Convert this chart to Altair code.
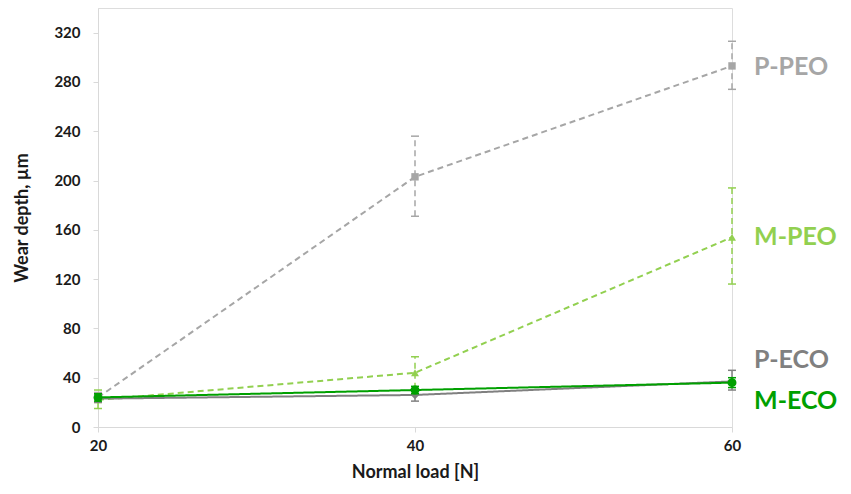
import altair as alt
import pandas as pd

loads = [20, 40, 60]
series = ["P-PEO", "M-PEO", "P-ECO", "M-ECO"]
colors = ["#A6A6A6", "#92D050", "#808080", "#00A000"]
shapes = ["square", "triangle-up", "diamond", "circle"]
dashes = [[6, 4], [6, 4], [1, 0], [1, 0]]
marker_sizes = [55, 80, 60, 60]

p_peo = [24, 203, 293]
p_peo_lo = [20, 171, 274]
p_peo_hi = [28, 236, 313]

m_peo = [22, 44, 154]
m_peo_lo = [15, 31, 116]
m_peo_hi = [30, 57, 194]

p_eco = [23, 26, 37]
p_eco_lo = [20, 21, 30]
p_eco_hi = [27, 31, 46]

m_eco = [24, 30, 36]
m_eco_lo = [21, 27, 32]
m_eco_hi = [27, 33, 40]

label_y = [292, 154, 54, 21]

rows = []
for name, v, lo, hi in [("P-PEO", p_peo, p_peo_lo, p_peo_hi),
                        ("M-PEO", m_peo, m_peo_lo, m_peo_hi),
                        ("P-ECO", p_eco, p_eco_lo, p_eco_hi),
                        ("M-ECO", m_eco, m_eco_lo, m_eco_hi)]:
    for x, a, b, c in zip(loads, v, lo, hi):
        rows.append({"load": x, "depth": a, "lo": b, "hi": c, "series": name})
df = pd.DataFrame(rows)
lab = pd.DataFrame({"series": series, "y": label_y, "load": [60] * 4})

FONT = "Lato"
color = alt.Color("series:N", scale=alt.Scale(domain=series, range=colors), legend=None)
dash = alt.StrokeDash("series:N", scale=alt.Scale(domain=series, range=dashes), legend=None)
shape = alt.Shape("series:N", scale=alt.Scale(domain=series, range=shapes), legend=None)
size = alt.Size("series:N", scale=alt.Scale(domain=series, range=marker_sizes), legend=None)

xs = alt.X("load:Q", scale=alt.Scale(domain=[20, 60], nice=False),
           axis=alt.Axis(values=loads, title="Normal load [N]", grid=False, labelFlush=False,
                         domainColor="#D9D9D9", tickColor="#D9D9D9", tickSize=5,
                         labelFont=FONT, labelFontSize=15, labelFontWeight="bold",
                         labelColor="#1a1a1a", labelPadding=6,
                         titleFont=FONT, titleFontSize=18, titleFontWeight="bold",
                         titleColor="#1a1a1a", titlePadding=10))
ys = alt.Y("depth:Q", scale=alt.Scale(domain=[0, 340], nice=False),
           axis=alt.Axis(values=list(range(0, 321, 40)), title="Wear depth, µm", grid=False,
                         domainColor="#D9D9D9", tickColor="#D9D9D9", tickSize=5,
                         labelFont=FONT, labelFontSize=15, labelFontWeight="bold",
                         labelColor="#1a1a1a", labelPadding=13,
                         titleFont=FONT, titleFontSize=18, titleFontWeight="bold",
                         titleColor="#1a1a1a", titlePadding=22))

base = alt.Chart(df)
layers = []
for name in series:
    b = base.transform_filter(alt.datum.series == name)
    err = b.mark_rule(strokeWidth=1.5).encode(x=xs, y="lo:Q", y2="hi:Q", color=color, strokeDash=dash)
    cap1 = b.mark_rule(strokeWidth=1.5, xOffset=-4, x2Offset=4).encode(
        x="load:Q", x2="load:Q", y="lo:Q", color=color)
    cap2 = b.mark_rule(strokeWidth=1.5, xOffset=-4, x2Offset=4).encode(
        x="load:Q", x2="load:Q", y="hi:Q", color=color)
    line = b.mark_line(strokeWidth=2).encode(x=xs, y=ys, color=color, strokeDash=dash)
    pts = b.mark_point(filled=True, opacity=1).encode(x=xs, y=ys, color=color, shape=shape, size=size)
    layers += [err, cap1, cap2, line, pts]

labels = alt.Chart(lab).mark_text(align="left", baseline="middle", dx=22, font=FONT,
                                  fontSize=25, fontWeight="bold").encode(
    x="load:Q", y="y:Q", text="series:N", color=color)

chart = alt.layer(*layers, labels).properties(
    width=634, height=419,
    autosize=alt.AutoSizeParams(type="none"),
    padding={"left": 90, "top": 0, "right": 110, "bottom": 60},
).configure_view(stroke=None).configure(background="white")

chart.save("out.html", embed_options={"renderer": "svg", "actions": False})
